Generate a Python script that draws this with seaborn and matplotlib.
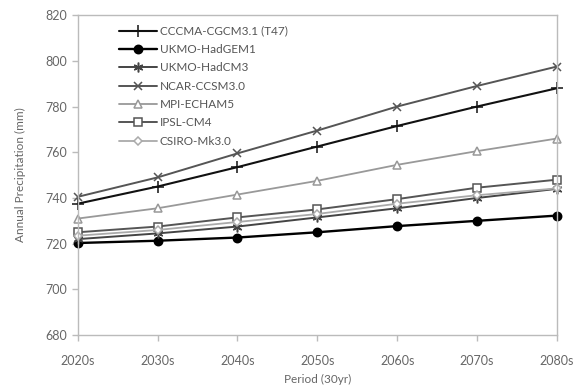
import pandas as pd
import numpy as np
import seaborn as sns
import matplotlib.pyplot as plt

periods = ['2020s', '2030s', '2040s', '2050s', '2060s', '2070s', '2080s']

cccma = [737.5, 745, 753.5, 762.5, 771.5, 780, 788]
hadgem1 = [720.3, 721.3, 722.7, 725, 727.7, 730, 732.3]
hadcm3 = [722, 724.5, 727.5, 731.5, 735.5, 740, 744]
ncar = [740.5, 749, 759.5, 769.5, 780, 789, 797.5]
mpi = [731, 735.5, 741.5, 747.5, 754.5, 760.5, 766]
ipsl = [725, 727.5, 731.5, 735, 739.5, 744.5, 748]
csiro = [723.5, 726, 729.5, 733, 737.5, 741.2, 744.2]

models = ['CCCMA-CGCM3.1 (T47)', 'UKMO-HadGEM1', 'UKMO-HadCM3', 'NCAR-CCSM3.0',
          'MPI-ECHAM5', 'IPSL-CM4', 'CSIRO-Mk3.0']
values = [cccma, hadgem1, hadcm3, ncar, mpi, ipsl, csiro]

# line styling per model (colour, width, marker, marker size, marker face)
styles = {
    'CCCMA-CGCM3.1 (T47)': ('#111111', 1.5, '+', 8, '#111111'),
    'UKMO-HadGEM1': ('#000000', 1.7, 'o', 6, '#000000'),
    'UKMO-HadCM3': ('#444444', 1.4, (6, 2, 0), 7, '#444444'),
    'NCAR-CCSM3.0': ('#555555', 1.4, 'x', 6, '#555555'),
    'MPI-ECHAM5': ('#999999', 1.3, '^', 6, 'white'),
    'IPSL-CM4': ('#555555', 1.4, 's', 6, 'white'),
    'CSIRO-Mk3.0': ('#aaaaaa', 1.3, 'D', 4.5, 'white'),
}

rows = []
for m, vals in zip(models, values):
    for p, v in zip(periods, vals):
        rows.append({'Period': p, 'Model': m, 'Precip': v})
df = pd.DataFrame(rows)

sns.set_style("white")
plt.rcParams['font.family'] = ['Lato', 'DejaVu Sans']

fig = plt.figure(figsize=(5.83, 3.87), dpi=100)
ax = fig.add_axes([0.1333, 0.134, 0.822, 0.827])

for m in models:
    col, lw, mk, ms, fc = styles[m]
    sub = df[df['Model'] == m]
    sns.lineplot(data=sub, x='Period', y='Precip', ax=ax, color=col, linewidth=lw,
                 marker=mk, markersize=ms, markerfacecolor=fc, markeredgecolor=col,
                 markeredgewidth=1.1, label=m, sort=False, clip_on=False)

ax.set_xlim(0, len(periods) - 1)
ax.set_ylim(680, 820)
ax.set_yticks(np.arange(680, 821, 20))
ax.set_xticks(range(len(periods)))
ax.set_xticklabels(periods)

grey = '#bbbbbb'
for s in ax.spines.values():
    s.set_color(grey)
    s.set_linewidth(1.0)
ax.tick_params(axis='both', colors=grey, labelcolor='#666666', labelsize=9,
               length=4, width=1, direction='out', left=True, bottom=True)
ax.tick_params(axis='x', pad=10)

ax.set_xlabel('Period (30yr)', color='#666666', fontsize=8.5, labelpad=5)
ax.set_ylabel('Annual Precipitation (mm)', color='#666666', fontsize=8.5, labelpad=14)

leg = ax.legend(loc='upper left', bbox_to_anchor=(0.065, 1.0), frameon=False,
                fontsize=8.5, handlelength=3.2, labelspacing=0.62, handletextpad=0.2)
for t in leg.get_texts():
    t.set_color('#555555')

fig.savefig('out.png', dpi=100)
